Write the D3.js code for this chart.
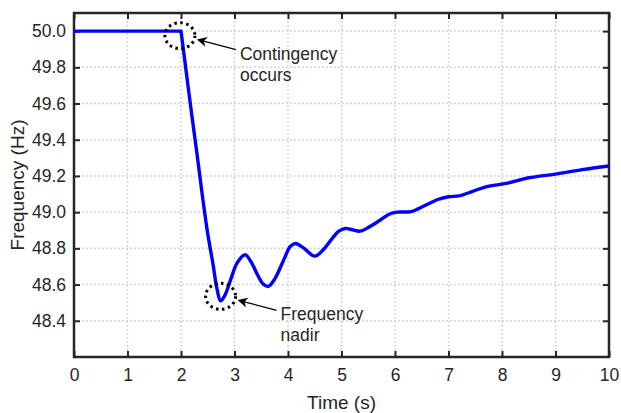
<!DOCTYPE html>
<html><head><meta charset="utf-8">
<script src="https://cdn.jsdelivr.net/npm/d3@7"></script>
<style>body{margin:0;background:#fff}svg{display:block}text{font-family:"Liberation Sans",Arial,sans-serif;fill:#262626}</style>
</head><body><svg id="c" width="621" height="413"></svg>
<script>
const timeS = [0,2.0,2.1,2.2,2.3,2.4,2.5,2.6,2.67,2.74,2.82,2.92,3.05,3.2,3.32,3.42,3.53,3.63,3.75,3.94,4.04,4.14,4.3,4.5,4.65,4.84,4.95,5.07,5.2,5.35,5.5,5.72,5.9,6.04,6.3,6.55,6.8,7.0,7.2,7.45,7.7,8.1,8.5,9.0,9.5,10];
const freqHz = [50.0,50.0,49.77,49.54,49.32,49.09,48.88,48.71,48.58,48.51,48.54,48.62,48.72,48.765,48.72,48.66,48.605,48.59,48.63,48.75,48.81,48.827,48.8,48.757,48.79,48.86,48.895,48.91,48.903,48.895,48.915,48.955,48.99,49.0,49.003,49.035,49.07,49.085,49.09,49.115,49.14,49.16,49.19,49.21,49.235,49.255];
const xTicks = [0,1,2,3,4,5,6,7,8,9,10];
const yTicks = [48.4,48.6,48.8,49.0,49.2,49.4,49.6,49.8,50.0];
const notes = [
  {t:1.98, f:49.975, lines:["Contingency","occurs"]},
  {t:2.74, f:48.535, lines:["Frequency","nadir"]}
];

const svg = d3.select("#c");
const L=74,R=609,T=13,B=357;
const x = d3.scaleLinear().domain([0,10]).range([L,R]);
const y = d3.scaleLinear().domain([48.2,50.1]).range([B,T]);
const ink="#262626";

// grid
const g = svg.append("g");
g.selectAll(".gx").data(xTicks.slice(1,-1)).join("line")
  .attr("x1",d=>x(d)).attr("x2",d=>x(d)).attr("y1",T).attr("y2",B)
  .attr("stroke","#c8c8c8").attr("stroke-width",1.5).attr("stroke-dasharray","1.5,2.5");
g.selectAll(".gy").data(yTicks).join("line")
  .attr("x1",L).attr("x2",R).attr("y1",d=>y(d)).attr("y2",d=>y(d))
  .attr("stroke","#c8c8c8").attr("stroke-width",1.5).attr("stroke-dasharray","1.5,2.5");

// axes
const xa = svg.append("g").attr("transform",`translate(0,${B})`)
  .call(d3.axisBottom(x).tickValues(xTicks).tickSizeInner(-6).tickSizeOuter(0).tickPadding(12).tickFormat(d3.format("d")));
const xt = svg.append("g").attr("transform",`translate(0,${T})`)
  .call(d3.axisTop(x).tickValues(xTicks).tickSizeInner(-6).tickSizeOuter(0).tickFormat(""));
const ya = svg.append("g").attr("transform",`translate(${L},0)`)
  .call(d3.axisLeft(y).tickValues(yTicks).tickSizeInner(-6).tickSizeOuter(0).tickPadding(8).tickFormat(d3.format(".1f")));
const yr = svg.append("g").attr("transform",`translate(${R},0)`)
  .call(d3.axisRight(y).tickValues(yTicks).tickSizeInner(-6).tickSizeOuter(0).tickFormat(""));
[xa,xt,ya,yr].forEach(a=>{
  a.select(".domain").remove();
  a.selectAll("line").attr("stroke",ink).attr("stroke-width",2);
  a.selectAll("text").attr("font-size",17.5).attr("fill",ink).attr("font-family","Liberation Sans, Arial, sans-serif");
});
svg.append("rect").attr("x",L).attr("y",T).attr("width",R-L).attr("height",B-T)
  .attr("fill","none").attr("stroke",ink).attr("stroke-width",2.5);

// curve: flat pre-event segment, smooth response afterwards
const pts = timeS.map((t,i)=>[t,freqHz[i]]);
const lineFlat = d3.line().x(d=>x(d[0])).y(d=>y(d[1]));
const lineSmooth = d3.line().x(d=>x(d[0])).y(d=>y(d[1])).curve(d3.curveCatmullRom.alpha(0.5));
const dPath = lineFlat(pts.slice(0,2)) + "L" + lineSmooth(pts.slice(1)).slice(1);
svg.append("path").attr("d",dPath)
  .attr("fill","none").attr("stroke","#0000ff").attr("stroke-width",3.4).attr("stroke-linejoin","round");

// annotations
const defs = svg.append("defs");
defs.append("marker").attr("id","ah").attr("viewBox","0 0 10 10").attr("refX",9).attr("refY",5)
  .attr("markerWidth",12).attr("markerHeight",10).attr("markerUnits","userSpaceOnUse").attr("orient","auto")
  .append("path").attr("d","M0,0 L10,5 L0,10 L3,5 Z").attr("fill","#000");

notes.forEach((n,i)=>{
  const cx=x(n.t), cy=y(n.f);
  svg.append("ellipse").attr("cx",cx).attr("cy",cy).attr("rx",15).attr("ry",13)
    .attr("fill","none").attr("stroke","#000").attr("stroke-width",3).attr("stroke-dasharray","2.5,3.5");
  const ax = cx+18, ay = cy+4;
  const tx = cx+56, ty = cy+14;
  svg.append("line").attr("x1",tx).attr("y1",ty).attr("x2",ax).attr("y2",ay)
    .attr("stroke","#000").attr("stroke-width",1.2).attr("marker-end","url(#ah)");
  const txt = svg.append("text").attr("x",tx+4).attr("y",cy+24).attr("font-size",17.5).attr("fill","#000");
  n.lines.forEach((s,j)=>txt.append("tspan").attr("x",tx+4).attr("dy",j?21:0).text(s));
});

// axis labels
svg.append("text").attr("x",(L+R)/2).attr("y",409).attr("text-anchor","middle").attr("font-size",19).text("Time (s)");
svg.append("text").attr("transform",`translate(24,${(T+B)/2}) rotate(-90)`).attr("text-anchor","middle").attr("font-size",19).text("Frequency (Hz)");
</script></body></html>
